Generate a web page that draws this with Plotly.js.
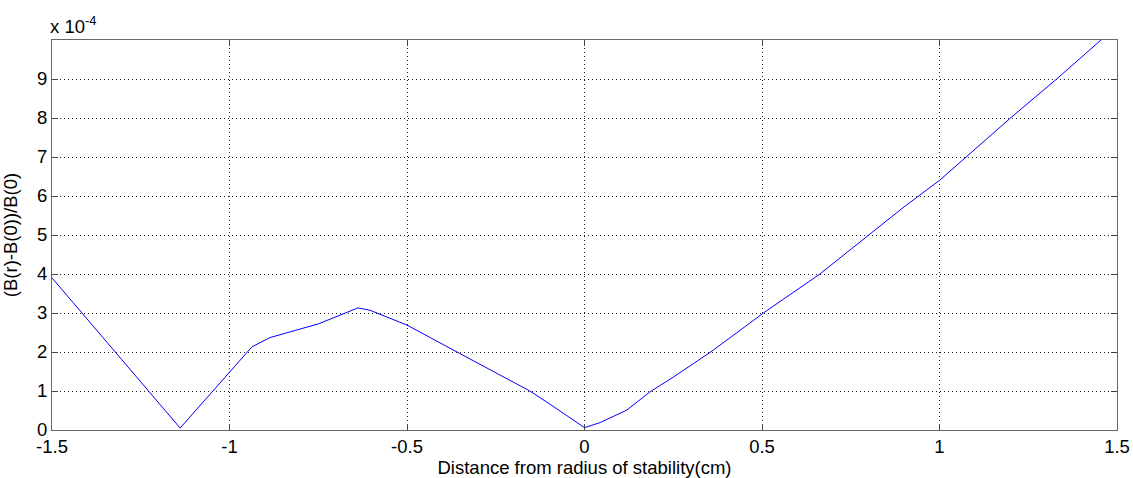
<!DOCTYPE html>
<html><head><meta charset="utf-8">
<script src="https://cdn.plot.ly/plotly-3.0.1.min.js"></script>
<style>html,body{margin:0;padding:0;background:#fff}#chart{width:1133px;height:478px}</style>
</head><body><div id="chart"></div>
<script>
// Distance from radius of stability (cm)
const xVals = [-1.5, -1.187, -1.139, -0.937, -0.886, -0.75, -0.638, -0.604, -0.5, -0.351, -0.238, -0.154, -0.097, 0.0, 0.044, 0.119, 0.185, 0.249, 0.354, 0.461, 0.504, 0.663, 0.80, 0.9, 1.0, 1.1, 1.2, 1.33, 1.455];
// (B(r)-B(0))/B(0) in units of 1e-4
const yVals = [3.9, 0.54, 0.05, 2.13, 2.37, 2.72, 3.13, 3.07, 2.69, 1.96, 1.41, 1.0, 0.66, 0.06, 0.19, 0.51, 0.98, 1.35, 1.99, 2.71, 3.0, 4.0, 5.0, 5.72, 6.4, 7.2, 8.0, 9.0, 10.0];
const xTicks = [-1.5, -1, -0.5, 0, 0.5, 1, 1.5];
const xTickText = ['-1.5', '-1', '-0.5', '0', '0.5', '1', '1.5'];
const yTicks = [0, 1, 2, 3, 4, 5, 6, 7, 8, 9];
const yTickText = ['0', '1', '2', '3', '4', '5', '6', '7', '8', '9'];

const font = {family: 'Liberation Sans, Arial, sans-serif', size: 18.5, color: '#000'};
const axisCommon = {
  showline: true, linecolor: '#666', linewidth: 1, mirror: 'ticks',
  ticks: 'inside', ticklen: 6, tickcolor: '#444',
  showgrid: true, gridcolor: '#222', griddash: '1px,3px', gridwidth: 1,
  zeroline: false, tickfont: font
};
Plotly.newPlot('chart', [{
  x: xVals, y: yVals, type: 'scatter', mode: 'lines',
  line: {color: '#0000ff', width: 1}
}], {
  width: 1133, height: 478,
  margin: {l: 52, r: 16, t: 40, b: 48},
  paper_bgcolor: '#fff', plot_bgcolor: '#fff',
  showlegend: false,
  font: font,
  xaxis: Object.assign({}, axisCommon, {
    range: [-1.5, 1.5], tickvals: xTicks, ticktext: xTickText,
    title: {text: 'Distance from radius of stability(cm)', font: font, standoff: 0}
  }),
  yaxis: Object.assign({}, axisCommon, {
    range: [0, 10], tickvals: yTicks, ticktext: yTickText,
    title: {text: '(B(r)-B(0))/B(0)', font: font, standoff: 14}
  }),
  annotations: [{
    xref: 'paper', yref: 'paper', x: 0, y: 1, xanchor: 'left', yanchor: 'bottom',
    xshift: -4, yshift: 1, showarrow: false, text: 'x 10<sup>-4</sup>', font: font
  }]
}, {displayModeBar: false, staticPlot: true});
</script></body></html>
